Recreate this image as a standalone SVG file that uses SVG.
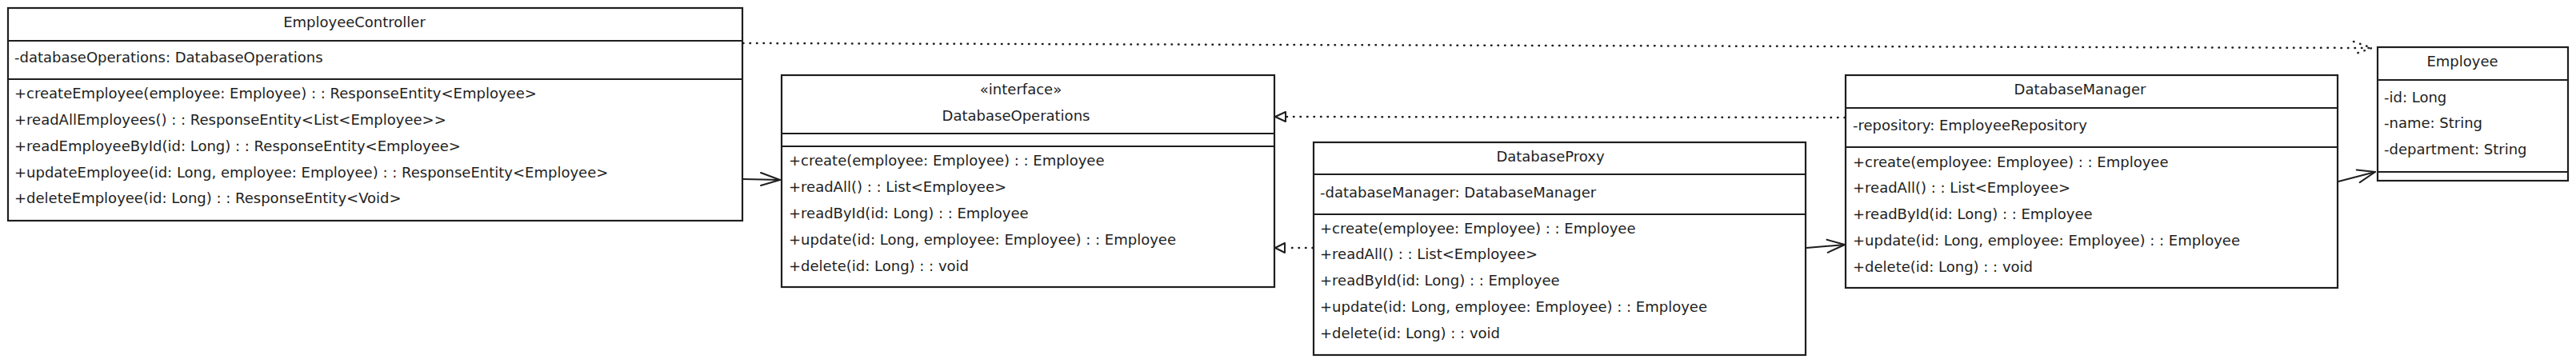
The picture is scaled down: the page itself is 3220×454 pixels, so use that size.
<svg xmlns="http://www.w3.org/2000/svg" width="3220" height="454" viewBox="0 0 3220 454">
<style>
  .box { fill: #ffffff; stroke: #1e1e1e; stroke-width: 2.2; }
  .div { stroke: #1e1e1e; stroke-width: 2; fill: none; }
  text { font-family: "DejaVu Sans", "Liberation Sans", sans-serif; font-size: 18px; fill: #1e1e1e; }
  .c { text-anchor: middle; }
  .solid { stroke: #1e1e1e; stroke-width: 2; fill: none; stroke-linecap: round; stroke-linejoin: round; }
  .dot { stroke: #1e1e1e; stroke-width: 2.5; fill: none; stroke-linecap: round; stroke-dasharray: 0.5 8; }
  .tri { stroke: #1e1e1e; stroke-width: 2; fill: #ffffff; stroke-linejoin: round; }
</style>
<rect width="3220" height="454" fill="#ffffff"/>

<g id="connectors">
  <!-- EmployeeController -> Employee (dependency) -->
  <path class="dot" d="M 929 54 L 2963 60"/>
  <path class="dot" d="M 2942 52 L 2965 60 L 2942 68"/>
  <!-- EmployeeController -> DatabaseOperations -->
  <path class="solid" d="M 929 224 L 975 225"/>
  <path class="solid" d="M 951 216 L 975 225 L 951 232"/>
  <!-- DatabaseManager -> DatabaseOperations (realization) -->
  <path class="dot" d="M 2306 147 L 1609 146"/>
  <path class="tri" d="M 1594 146 L 1607 140 L 1607 152 Z"/>
  <!-- DatabaseProxy -> DatabaseOperations (realization) -->
  <path class="dot" d="M 1641 310 L 1609 310"/>
  <path class="tri" d="M 1594 310 L 1606 304 L 1606 316 Z"/>
  <!-- DatabaseProxy -> DatabaseManager -->
  <path class="solid" d="M 2258 310 L 2306 306"/>
  <path class="solid" d="M 2283.5 299.8 L 2306 306 L 2284.7 315.8"/>
  <!-- DatabaseManager -> Employee -->
  <path class="solid" d="M 2923 227 L 2969 215"/>
  <path class="solid" d="M 2945.7 212.6 L 2969 215 L 2949.7 228.2"/>
</g>

<g id="EmployeeController">
  <rect class="box" x="10" y="10" width="918" height="266"/>
  <line class="div" x1="10" y1="51" x2="928" y2="51"/>
  <line class="div" x1="10" y1="99" x2="928" y2="99"/>
  <text class="c" x="443" y="34">EmployeeController</text>
  <text x="18" y="78">-databaseOperations: DatabaseOperations</text>
  <text x="18" y="123">+createEmployee(employee: Employee) : : ResponseEntity&lt;Employee&gt;</text>
  <text x="18" y="156">+readAllEmployees() : : ResponseEntity&lt;List&lt;Employee&gt;&gt;</text>
  <text x="18" y="189">+readEmployeeById(id: Long) : : ResponseEntity&lt;Employee&gt;</text>
  <text x="18" y="222">+updateEmployee(id: Long, employee: Employee) : : ResponseEntity&lt;Employee&gt;</text>
  <text x="18" y="254">+deleteEmployee(id: Long) : : ResponseEntity&lt;Void&gt;</text>
</g>

<g id="DatabaseOperations">
  <rect class="box" x="977" y="94" width="616" height="265"/>
  <line class="div" x1="977" y1="167" x2="1593" y2="167"/>
  <line class="div" x1="977" y1="183" x2="1593" y2="183"/>
  <text class="c" x="1276" y="118">«interface»</text>
  <text class="c" x="1270" y="151">DatabaseOperations</text>
  <text x="986" y="207">+create(employee: Employee) : : Employee</text>
  <text x="986" y="240">+readAll() : : List&lt;Employee&gt;</text>
  <text x="986" y="273">+readById(id: Long) : : Employee</text>
  <text x="986" y="306">+update(id: Long, employee: Employee) : : Employee</text>
  <text x="986" y="339">+delete(id: Long) : : void</text>
</g>

<g id="DatabaseProxy">
  <rect class="box" x="1642" y="178" width="615" height="266"/>
  <line class="div" x1="1642" y1="218" x2="2257" y2="218"/>
  <line class="div" x1="1642" y1="268" x2="2257" y2="268"/>
  <text class="c" x="1938" y="202">DatabaseProxy</text>
  <text x="1650" y="247">-databaseManager: DatabaseManager</text>
  <text x="1650" y="292">+create(employee: Employee) : : Employee</text>
  <text x="1650" y="324">+readAll() : : List&lt;Employee&gt;</text>
  <text x="1650" y="357">+readById(id: Long) : : Employee</text>
  <text x="1650" y="390">+update(id: Long, employee: Employee) : : Employee</text>
  <text x="1650" y="423">+delete(id: Long) : : void</text>
</g>

<g id="DatabaseManager">
  <rect class="box" x="2307" y="94" width="615" height="266"/>
  <line class="div" x1="2307" y1="135" x2="2922" y2="135"/>
  <line class="div" x1="2307" y1="184" x2="2922" y2="184"/>
  <text class="c" x="2600" y="118">DatabaseManager</text>
  <text x="2316" y="163">-repository: EmployeeRepository</text>
  <text x="2316" y="209">+create(employee: Employee) : : Employee</text>
  <text x="2316" y="241">+readAll() : : List&lt;Employee&gt;</text>
  <text x="2316" y="274">+readById(id: Long) : : Employee</text>
  <text x="2316" y="307">+update(id: Long, employee: Employee) : : Employee</text>
  <text x="2316" y="340">+delete(id: Long) : : void</text>
</g>

<g id="Employee">
  <rect class="box" x="2972" y="59" width="238" height="167"/>
  <line class="div" x1="2972" y1="100" x2="3210" y2="100"/>
  <line class="div" x1="2972" y1="215" x2="3210" y2="215"/>
  <text class="c" x="3078" y="83">Employee</text>
  <text x="2980" y="128">-id: Long</text>
  <text x="2980" y="160">-name: String</text>
  <text x="2980" y="193">-department: String</text>
</g>
</svg>
